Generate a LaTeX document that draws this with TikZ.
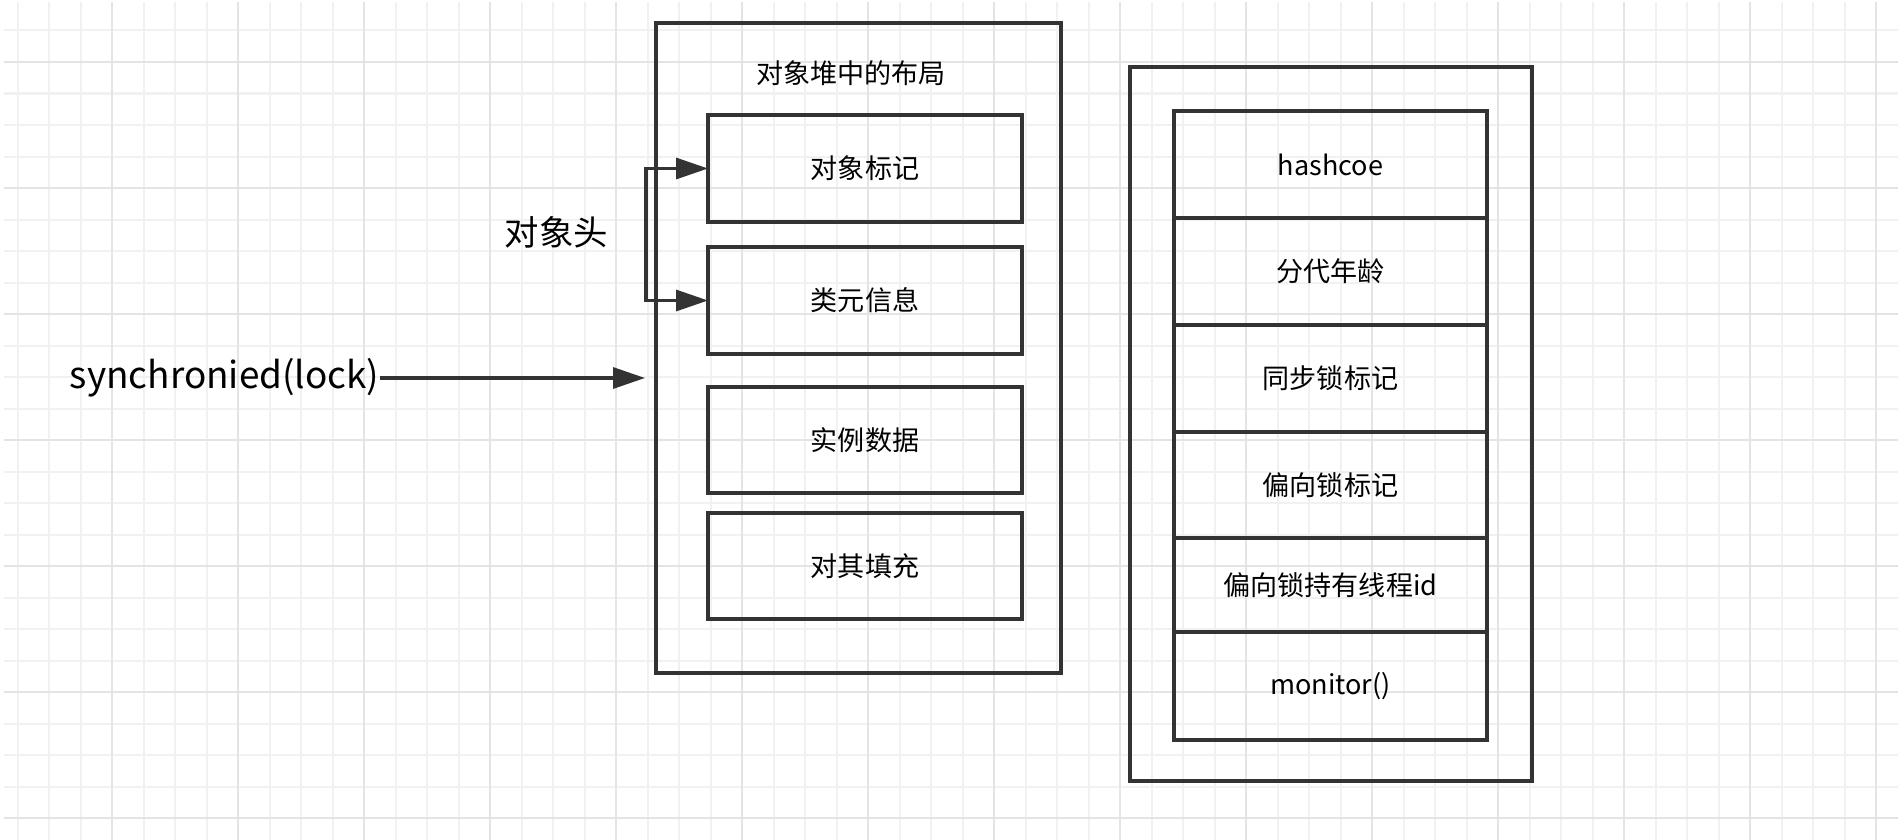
\documentclass[tikz,border=0pt]{standalone}
\usepackage{fontspec}
\setmainfont{Noto Sans CJK SC}
\usetikzlibrary{arrows.meta, positioning}
\definecolor{ink}{HTML}{333333}
\definecolor{gridminor}{HTML}{F1F1F1}
\definecolor{gridmajor}{HTML}{E4E4E4}

\begin{document}
\begin{tikzpicture}[>={Triangle[length=0.32cm, width=0.21cm]},
    minor/.style={draw=gridminor, line width=0.02cm},
    major/.style={draw=gridmajor, line width=0.022cm},
    frame/.style={draw=ink, line width=0.036cm, inner sep=0, outer sep=0},
    field/.style={draw=ink, line width=0.034cm, outer sep=0, minimum width=3.14cm, minimum height=1.07cm, font=\fontsize{7.7}{9}\selectfont},
    cell/.style={field, minimum width=3.13cm},
    link/.style={draw=ink, line width=0.032cm}]
    \useasboundingbox (0,0) rectangle (18.98,-8.40);
    \fill[white] (0,0) rectangle (18.98,-8.40);
    % background grid
    \begin{scope}
        \clip (0.04,-0.02) rectangle (18.98,-8.40);
        \foreach \i in {0,...,59} \draw[minor] ({0.175+0.315*\i},0) -- ++(0,-8.4);
        \foreach \j in {0,...,25} \draw[minor] (0,{-0.305-0.315*\j}) -- ++(18.98,0);
        \foreach \i in {0,...,14} \draw[major] ({1.12+1.26*\i},0) -- ++(0,-8.4);
        \foreach \j in {0,...,6} \draw[major] (0,{-0.62-1.26*\j}) -- ++(18.98,0);
    \end{scope}
    % object layout in the heap
    \node[frame, minimum width=4.05cm, minimum height=6.50cm] (heap) at (8.585,-3.48) {};
    \node[font=\fontsize{7.7}{9}\selectfont] (heaptitle) at (8.51,-0.73) {对象堆中的布局};
    \node[field] (mark) at (8.65,-1.685) {对象标记};
    \node[field] (klass) at (8.65,-3.005) {类元信息};
    \node[field, minimum height=1.06cm] (inst) at (8.65,-4.40) {实例数据};
    \node[field, minimum height=1.06cm] (pad) at (8.65,-5.66) {对其填充};
    % mark word
    \node[frame, minimum width=4.02cm, minimum height=7.14cm] (word) at (13.31,-4.24) {};
    \node[cell] (hash) at (13.305,-1.645) {hashcoe};
    \node[cell, below=0pt of hash] (age) {分代年龄};
    \node[cell, below=0pt of age] (lockbit) {同步锁标记};
    \node[cell, minimum height=1.06cm, below=0pt of lockbit] (biasbit) {偏向锁标记};
    \node[cell, minimum height=0.94cm, below=0pt of biasbit] (thread) {偏向锁持有线程id};
    \node[cell, minimum height=1.08cm, below=0pt of thread] (mon) {monitor()};
    % labels and arrows
    \node[font=\fontsize{9.8}{11}\selectfont] (hdr) at (5.565,-2.32) {对象头};
    \node[font=\fontsize{10.5}{12}\selectfont, inner sep=0, anchor=east] (sync) at (3.80,-3.78) {synchronied(lock)};
    \coordinate (entry) at (6.45,-3.78);
    \draw[link, <->] (mark.west) -- ++(-0.62,0) |- (klass.west);
    \draw[link, ->] (sync) -- (entry);
\end{tikzpicture}
\end{document}
